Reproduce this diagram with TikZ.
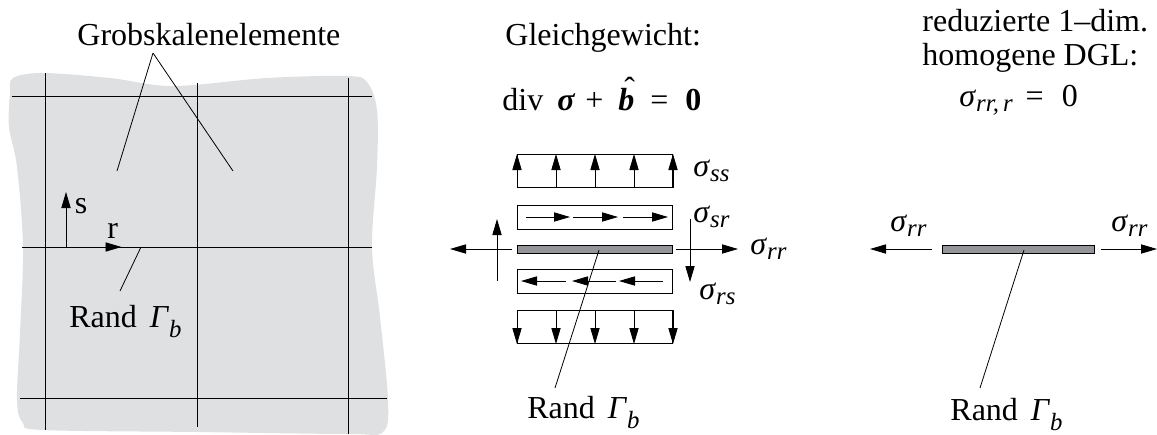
\documentclass[tikz,border=0pt]{standalone}
\usepackage{fontspec}
\setmainfont{Liberation Serif}
\usetikzlibrary{positioning,arrows.meta,calc}
\newcommand{\sgm}[1]{\textit{σ}\raisebox{-2.8pt}{\fontsize{12.4}{12.4}\selectfont\itshape #1}}
\newcommand{\randtxt}{Rand\hspace{6.5pt}\textit{Γ}\raisebox{-5pt}{\fontsize{12.4}{12.4}\selectfont\itshape b}}
\newcommand{\hatb}{\makebox[0pt][l]{\hspace{3pt}\raisebox{5.5pt}{ˆ}}\textbf{\textit{b}}}
\tikzset{
  txt/.style={anchor=base west,inner sep=0pt,font=\fontsize{16}{16}\selectfont},
  thin line/.style={line width=0.45pt},
  lead/.style={line width=0.4pt},
  arr/.style={-{Stealth[length=8pt,width=4.6pt,inset=0pt]},line width=0.45pt},
  loadbox/.style={draw,line width=0.5pt,inner sep=0pt,minimum width=77.5pt,anchor=north west},
  barbox/.style={draw,line width=0.5pt,fill=bargray,inner sep=0pt,minimum width=77.5pt,minimum height=4pt,anchor=north west}
}
\definecolor{sheet}{RGB}{223,224,226}
\definecolor{bargray}{RGB}{147,149,152}
\begin{document}
\begin{tikzpicture}[x=0.5pt,y=-0.5pt]
  \useasboundingbox (0,0) rectangle (1157,434);
  % gray sheet
  \fill[sheet] plot[smooth cycle,tension=0.55] coordinates {(13,78) (43,73) (110,78) (173,86) (267,78) (347,76) (367,82) (377,110) (377,167) (372,247) (380,317) (388,400) (383,432) (348,434) (197,432) (43,430) (23,423) (17,400) (20,333) (23,247) (17,167) (9,127) (10,93)};
  % coarse grid
  \foreach \n/\px/\ya/\yb in {a/45.7/73/430,b/197/83/427,c/348.5/78/434}{
    \coordinate (v\n t) at (\px,\ya);
    \coordinate (v\n b) at (\px,\yb);
    \draw[thin line] (v\n t) -- (v\n b);
  }
  \foreach \n/\py/\xa/\xb in {a/96/12/372,b/247/22/372,c/398/20/387}{
    \coordinate (h\n l) at (\xa,\py);
    \coordinate (h\n r) at (\xb,\py);
    \draw[thin line] (h\n l) -- (h\n r);
  }
  \node[txt] (grob) at (77,45) {Grobskalenelemente};
  \coordinate (grobtip) at (153,53);
  \coordinate (elema) at (117,171);
  \coordinate (elemb) at (233,171);
  \draw[lead] (grobtip) -- (elema);
  \draw[lead] (grobtip) -- (elemb);
  \coordinate (orig) at (66,247);
  \coordinate (stip) at (66,192);
  \coordinate (rtip) at (121.5,247);
  \draw[arr] (orig) -- (stip);
  \draw[arr] (orig) -- (rtip);
  \node[txt] (slbl) at (74.5,213) {s};
  \node[txt] (rlbl) at (107,238) {r};
  \coordinate (rand1a) at (141,247);
  \coordinate (rand1b) at (120,291);
  \draw[lead] (rand1a) -- (rand1b);
  \node[txt] (rand1) at (69,327) {\randtxt};

  % middle part
  \node[txt] (gleich) at (505,45) {Gleichgewicht:};
  \node[txt] (div) at (502,110) {div\hspace{7pt}\textbf{\textit{σ}}\hspace{5pt}+\hspace{7.5pt}\hatb\hspace{8pt}=\hspace{8.5pt}\textbf{0}};
  \node[loadbox,minimum height=16.5pt] (top) at (517,154) {};
  \node[loadbox,minimum height=12pt] (shu) at (517,205) {};
  \node[barbox] (bar) at (517,245) {};
  \node[loadbox,minimum height=12pt] (shl) at (517,269) {};
  \node[loadbox,minimum height=16.5pt] (bot) at (517,310) {};
  \foreach \f in {0,0.25,0.5,0.75,1}{
    \draw[arr] ($(top.south west)!\f!(top.south east)$) -- ($(top.north west)!\f!(top.north east)$);
    \draw[arr] ($(bot.north west)!\f!(bot.north east)$) -- ($(bot.south west)!\f!(bot.south east)$);
  }
  \foreach \i/\xa/\xb in {1/526/570,2/573/618,3/623/668}{
    \coordinate (ua\i) at (\xa,217);
    \coordinate (ub\i) at (\xb,217);
    \draw[arr] (ua\i) -- (ub\i);
  }
  \foreach \i/\xa/\xb in {1/566/521,2/616/572,3/663/619}{
    \coordinate (la\i) at (\xa,281);
    \coordinate (lb\i) at (\xb,281);
    \draw[arr] (la\i) -- (lb\i);
  }
  \coordinate (wl) at (512,249);
  \coordinate (wlt) at (450,249);
  \coordinate (el) at (676,249);
  \coordinate (elt) at (738,249);
  \coordinate (wa) at (497,281);
  \coordinate (wat) at (497,219);
  \coordinate (ea) at (690,219);
  \coordinate (eat) at (690,282);
  \draw[arr] (wl) -- (wlt);
  \draw[arr] (el) -- (elt);
  \draw[arr] (wa) -- (wat);
  \draw[arr] (ea) -- (eat);
  \node[txt] (sss) at (693,176) {\sgm{ss}};
  \node[txt] (ssr) at (693,222) {\sgm{sr}};
  \node[txt] (srr) at (750,254) {\sgm{rr}};
  \node[txt] (srs) at (699,299) {\sgm{rs}};
  \coordinate (rand2a) at (599,250);
  \coordinate (rand2b) at (555,388);
  \draw[lead] (rand2a) -- (rand2b);
  \node[txt] (rand2) at (527,418) {\randtxt};

  % right part
  \node[txt] (red1) at (922,31) {reduzierte 1–dim.};
  \node[txt] (red2) at (922,65) {homogene DGL:};
  \node[txt] (red3) at (959,106) {\sgm{rr,\,r}\hspace{6.5pt}=\hspace{9pt}0};
  \node[barbox,minimum width=76pt] (barr) at (942,245) {};
  \coordinate (al) at (932,249);
  \coordinate (alt) at (870,249);
  \coordinate (ar) at (1101,249);
  \coordinate (art) at (1157,249);
  \draw[arr] (al) -- (alt);
  \draw[arr] (ar) -- (art);
  \node[txt] (rrl) at (890,231) {\sgm{rr}};
  \node[txt] (rrr) at (1111,231) {\sgm{rr}};
  \coordinate (rand3a) at (1024,250);
  \coordinate (rand3b) at (980,388);
  \draw[lead] (rand3a) -- (rand3b);
  \node[txt] (rand3) at (950,420) {\randtxt};
\end{tikzpicture}
\end{document}
